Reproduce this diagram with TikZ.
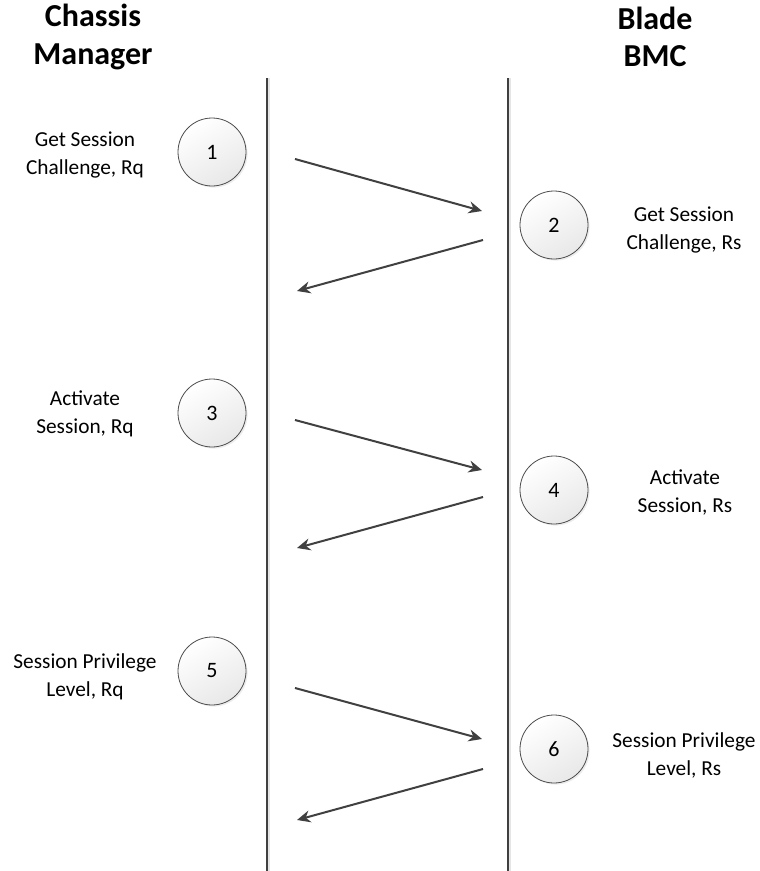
\documentclass[tikz,border=0pt]{standalone}
\usepackage{fontspec}
\setmainfont{Carlito}
\usetikzlibrary{arrows.meta,shadows}
\definecolor{linegray}{HTML}{404040}
\tikzset{
  header/.style={align=center, font=\fontsize{24}{28}\selectfont\bfseries, inner sep=0pt},
  msglabel/.style={align=center, font=\fontsize{16}{21}\selectfont, inner sep=0pt},
  stepcircle/.style={circle, minimum size=51pt, inner sep=0pt, draw=black!70, line width=0.6pt,
    top color=white, bottom color=black!9, shading angle=30,
    font=\fontsize{16.5}{19}\selectfont,
    drop shadow={opacity=0.15, shadow xshift=1.2pt, shadow yshift=-1.2pt}},
  lifeline/.style={draw=linegray, line width=2.2pt},
  lifeshadow/.style={draw=black!10, line width=1.5pt},
  msg/.style={draw=linegray, line width=1.5pt, -{Stealth[length=10pt,width=9pt]}},
}
\begin{document}
\begin{tikzpicture}[x=0.75pt, y=-0.75pt]
  \useasboundingbox (0,0) rectangle (760,871);

  % participants
  \node[header] (cm) at (93,37) {Chassis\\Manager};
  \node[header] (bmc) at (655,37) {Blade\\BMC};

  % lifelines
  \coordinate (cmtop) at (267,78);  \coordinate (cmbot) at (267,871);
  \coordinate (bmtop) at (508,78);  \coordinate (bmbot) at (508,871);
  \draw[lifeshadow] ([xshift=1.8pt]cmtop) -- ([xshift=1.8pt]cmbot);
  \draw[lifeshadow] ([xshift=1.8pt]bmtop) -- ([xshift=1.8pt]bmbot);
  \draw[lifeline] (cmtop) -- (cmbot);
  \draw[lifeline] (bmtop) -- (bmbot);

  % step markers
  \node[stepcircle] (s1) at (212,152) {1};
  \node[stepcircle] (s2) at (554,225) {2};
  \node[stepcircle] (s3) at (212,413) {3};
  \node[stepcircle] (s4) at (554,490) {4};
  \node[stepcircle] (s5) at (212,671) {5};
  \node[stepcircle] (s6) at (554,749) {6};

  % step labels
  \node[msglabel] (l1) at (85,155) {Get Session\\Challenge, Rq};
  \node[msglabel] (l2) at (684,230) {Get Session\\Challenge, Rs};
  \node[msglabel] (l3) at (85,414) {Activate\\Session, Rq};
  \node[msglabel] (l4) at (685,492) {Activate\\Session, Rs};
  \node[msglabel] (l5) at (85,677) {Session Privilege\\Level, Rq};
  \node[msglabel] (l6) at (684,755) {Session Privilege\\Level, Rs};

  % message endpoints
  \coordinate (a1) at (295,159);  \coordinate (b1) at (482,211);
  \coordinate (a2) at (483,240);  \coordinate (b2) at (297,291);
  \coordinate (a3) at (295,420);  \coordinate (b3) at (482,470);
  \coordinate (a4) at (483,497);  \coordinate (b4) at (297,548);
  \coordinate (a5) at (295,688);  \coordinate (b5) at (482,739);
  \coordinate (a6) at (483,769);  \coordinate (b6) at (297,820);

  % messages
  \draw[msg] (a1) -- (b1);
  \draw[msg] (a2) -- (b2);
  \draw[msg] (a3) -- (b3);
  \draw[msg] (a4) -- (b4);
  \draw[msg] (a5) -- (b5);
  \draw[msg] (a6) -- (b6);
\end{tikzpicture}
\end{document}
